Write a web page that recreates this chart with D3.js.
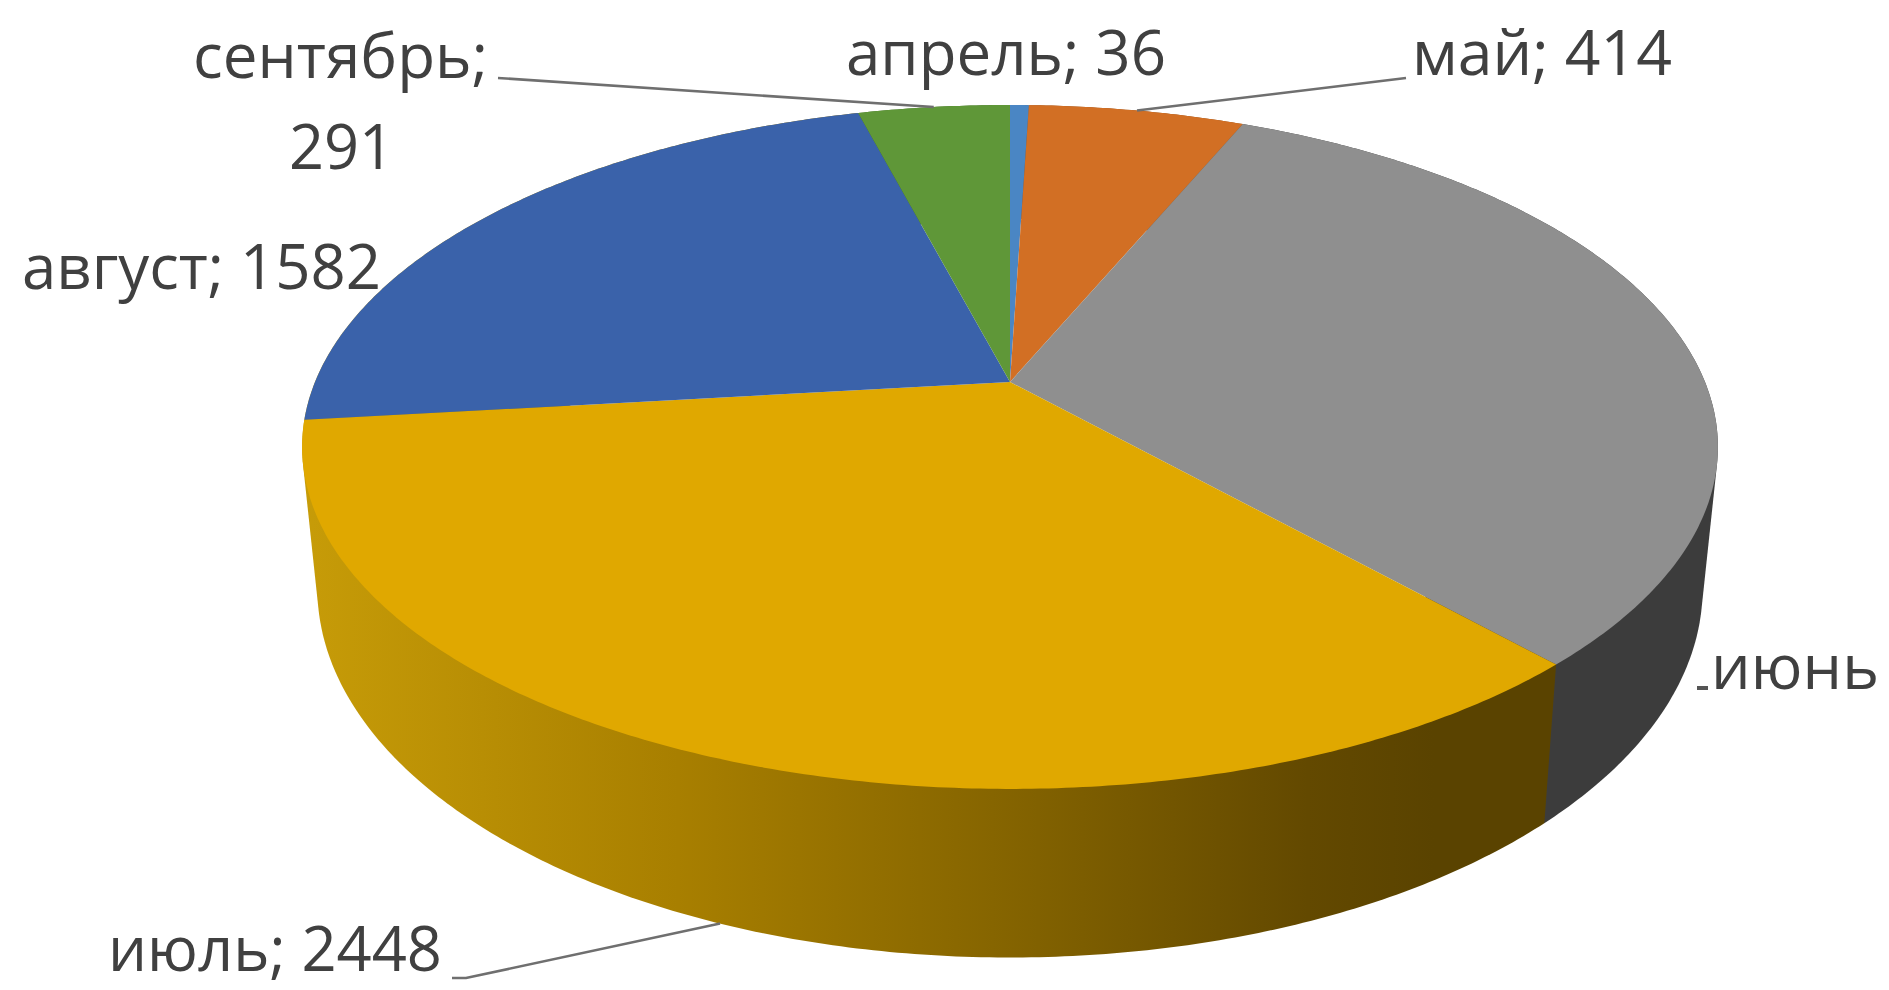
<!DOCTYPE html>
<html>
<head>
<meta charset="utf-8">
<script src="https://cdnjs.cloudflare.com/ajax/libs/d3/7.8.5/d3.min.js"></script>
<style>
  html, body { margin: 0; padding: 0; background: #fff; }
  svg { display: block; }
  text { font-family: "Open Sans", sans-serif; fill: #404040; }
</style>
</head>
<body>
<svg id="chart" width="1889" height="990"></svg>
<script>
// Arrivals per month, drawn as a tilted 3D pie.
const months = ["апрель", "май", "июнь", "июль", "август", "сентябрь"];
const arrivals = [36, 414, 2220, 2448, 1582, 291];
const sliceColors = ["#4a86c4", "#d26f24", "#8f8f8f", "#e0a800", "#3a62aa", "#5f9738"];
const wallColors = ["#2f5f8f", "#8f4a14", "#3c3c3c", "url(#julyWall)", "url(#julyWall)", "#3f6a24"];

const svg = d3.select("#chart");

// Perspective: the disc is a unit circle seen from above, nearer points grow.
const tilt = 0.19;
const topDisc = { x: 1010, y: 382, rx: 695, ry: 329.6 };
const baseDisc = { x: 1010, y: 518, rx: 680, ry: 356 };

function project(disc, angle) {
  const u = Math.sin(angle), v = -Math.cos(angle);
  const w = 1 - tilt * v;
  return [disc.x + disc.rx * u / w, disc.y + disc.ry * v / w];
}

const pie = d3.pie().value(d => d.value).sort(null);
const slices = pie(months.map((m, i) => ({ month: m, value: arrivals[i], index: i })));

function rim(disc, a0, a1) {
  const steps = Math.max(2, Math.ceil((a1 - a0) / 0.01));
  return d3.range(steps + 1).map(i => project(disc, a0 + (a1 - a0) * i / steps));
}
const line = d3.line();

// Side wall shading for the largest slice runs from lit on the left to dark on the right.
const defs = svg.append("defs");
const grad = defs.append("linearGradient")
  .attr("id", "julyWall").attr("gradientUnits", "userSpaceOnUse")
  .attr("x1", 300).attr("x2", 1560).attr("y1", 0).attr("y2", 0);
[[0, "#c79c08"], [0.3, "#a87f00"], [0.55, "#866500"], [0.8, "#634900"], [0.9, "#5a4300"], [1, "#5a4300"]]
  .forEach(([o, c]) => grad.append("stop").attr("offset", o).attr("stop-color", c));

// Each wall is the hull of its top and bottom rim arcs, so the silhouette stays straight
// between the two discs; the top face is painted over whatever falls behind it.
svg.append("g").selectAll("path").data(slices).join("path")
  .attr("d", d => line(d3.polygonHull(rim(topDisc, d.startAngle, d.endAngle)
    .concat(rim(baseDisc, d.startAngle, d.endAngle)))) + "Z")
  .attr("fill", d => wallColors[d.index]);

svg.append("g").selectAll("path").data(slices).join("path")
  .attr("d", d => line([[topDisc.x, topDisc.y]].concat(rim(topDisc, d.startAngle, d.endAngle))) + "Z")
  .attr("fill", d => sliceColors[d.index]);

// Leader lines end at the middle of each slice's rim.
const midAngle = d => (d.startAngle + d.endAngle) / 2;
const leaders = [
  { index: 5, disc: topDisc, path: [[498, 78]] },
  { index: 1, disc: topDisc, path: [[1406, 78]] },
  { index: 3, disc: baseDisc, path: [[452, 978], [466, 978]] }
];
svg.append("g").selectAll("path").data(leaders).join("path")
  .attr("d", d => line(d.path.concat([project(d.disc, midAngle(slices[d.index]))])))
  .attr("fill", "none").attr("stroke", "#6f6f6f").attr("stroke-width", 2.6);

svg.append("line").attr("x1", 1697).attr("x2", 1708).attr("y1", 688).attr("y2", 688)
  .attr("stroke", "#555").attr("stroke-width", 4);

const labelRows = [
  { text: `${months[5]};`, x: 193, y: 78, w: 295 },
  { text: `${arrivals[5]}`, x: 289, y: 169, w: 105 },
  { text: `${months[0]}; ${arrivals[0]}`, x: 846, y: 75, w: 320 },
  { text: `${months[1]}; ${arrivals[1]}`, x: 1412, y: 75, w: 260 },
  { text: `${months[4]}; ${arrivals[4]}`, x: 22, y: 289, w: 359 },
  { text: `${months[3]}; ${arrivals[3]}`, x: 108, y: 971, w: 334 },
  { text: months[2], x: 1711, y: 689, w: 168 }
];
svg.append("g").selectAll("text").data(labelRows).join("text")
  .attr("x", d => d.x).attr("y", d => d.y)
  .attr("font-size", 62)
  .attr("textLength", d => d.w).attr("lengthAdjust", "spacingAndGlyphs")
  .text(d => d.text);
</script>
</body>
</html>
